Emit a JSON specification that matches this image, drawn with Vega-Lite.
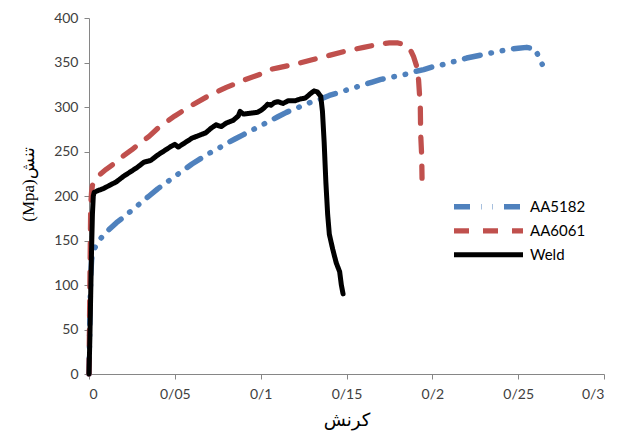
{
  "$schema": "https://vega.github.io/schema/vega-lite/v6.json",
  "autosize": {"type": "none"},
  "width": 515,
  "height": 356,
  "padding": {"left": 89, "top": 18, "right": 34, "bottom": 59},
  "background": "white",
  "config": {
    "view": {"stroke": null},
    "axis": {
      "grid": false,
      "domainColor": "#868686",
      "tickColor": "#868686",
      "tickSize": 5,
      "labelFont": "Lato",
      "labelFontSize": 14,
      "labelColor": "#404040",
      "titleFontWeight": "normal",
      "titleColor": "#000000"
    }
  },
  "data": {
    "values": [
      {"s": "AA5182", "x": 0, "y": 0},
      {"s": "AA5182", "x": 0.0005, "y": 60},
      {"s": "AA5182", "x": 0.001, "y": 110},
      {"s": "AA5182", "x": 0.0015, "y": 128},
      {"s": "AA5182", "x": 0.002, "y": 135},
      {"s": "AA5182", "x": 0.003, "y": 140},
      {"s": "AA5182", "x": 0.005, "y": 148},
      {"s": "AA5182", "x": 0.008, "y": 155},
      {"s": "AA5182", "x": 0.012, "y": 163},
      {"s": "AA5182", "x": 0.016, "y": 170},
      {"s": "AA5182", "x": 0.02, "y": 176},
      {"s": "AA5182", "x": 0.025, "y": 184},
      {"s": "AA5182", "x": 0.03, "y": 192},
      {"s": "AA5182", "x": 0.035, "y": 200},
      {"s": "AA5182", "x": 0.04, "y": 208},
      {"s": "AA5182", "x": 0.045, "y": 215},
      {"s": "AA5182", "x": 0.05, "y": 222},
      {"s": "AA5182", "x": 0.055, "y": 229},
      {"s": "AA5182", "x": 0.06, "y": 236},
      {"s": "AA5182", "x": 0.065, "y": 242},
      {"s": "AA5182", "x": 0.07, "y": 248},
      {"s": "AA5182", "x": 0.075, "y": 253},
      {"s": "AA5182", "x": 0.08, "y": 259},
      {"s": "AA5182", "x": 0.085, "y": 264},
      {"s": "AA5182", "x": 0.09, "y": 269},
      {"s": "AA5182", "x": 0.095, "y": 274},
      {"s": "AA5182", "x": 0.1, "y": 279},
      {"s": "AA5182", "x": 0.105, "y": 284},
      {"s": "AA5182", "x": 0.11, "y": 289},
      {"s": "AA5182", "x": 0.115, "y": 294},
      {"s": "AA5182", "x": 0.12, "y": 298},
      {"s": "AA5182", "x": 0.125, "y": 302},
      {"s": "AA5182", "x": 0.13, "y": 306},
      {"s": "AA5182", "x": 0.135, "y": 309},
      {"s": "AA5182", "x": 0.14, "y": 313},
      {"s": "AA5182", "x": 0.145, "y": 316},
      {"s": "AA5182", "x": 0.15, "y": 319},
      {"s": "AA5182", "x": 0.155, "y": 322},
      {"s": "AA5182", "x": 0.16, "y": 325},
      {"s": "AA5182", "x": 0.165, "y": 328},
      {"s": "AA5182", "x": 0.17, "y": 331},
      {"s": "AA5182", "x": 0.175, "y": 333},
      {"s": "AA5182", "x": 0.18, "y": 335},
      {"s": "AA5182", "x": 0.185, "y": 337},
      {"s": "AA5182", "x": 0.19, "y": 340},
      {"s": "AA5182", "x": 0.195, "y": 342},
      {"s": "AA5182", "x": 0.2, "y": 345},
      {"s": "AA5182", "x": 0.205, "y": 347},
      {"s": "AA5182", "x": 0.21, "y": 350},
      {"s": "AA5182", "x": 0.215, "y": 352},
      {"s": "AA5182", "x": 0.22, "y": 355},
      {"s": "AA5182", "x": 0.225, "y": 357},
      {"s": "AA5182", "x": 0.23, "y": 359},
      {"s": "AA5182", "x": 0.235, "y": 361},
      {"s": "AA5182", "x": 0.24, "y": 363},
      {"s": "AA5182", "x": 0.245, "y": 365},
      {"s": "AA5182", "x": 0.25, "y": 366},
      {"s": "AA5182", "x": 0.255, "y": 367},
      {"s": "AA5182", "x": 0.26, "y": 365},
      {"s": "AA5182", "x": 0.262, "y": 356},
      {"s": "AA5182", "x": 0.264, "y": 348},
      {"s": "AA6061", "x": 0, "y": 0},
      {"s": "AA6061", "x": 0.0005, "y": 100},
      {"s": "AA6061", "x": 0.001, "y": 190},
      {"s": "AA6061", "x": 0.0015, "y": 205},
      {"s": "AA6061", "x": 0.002, "y": 212},
      {"s": "AA6061", "x": 0.003, "y": 217},
      {"s": "AA6061", "x": 0.005, "y": 222},
      {"s": "AA6061", "x": 0.01, "y": 230},
      {"s": "AA6061", "x": 0.015, "y": 237},
      {"s": "AA6061", "x": 0.02, "y": 245},
      {"s": "AA6061", "x": 0.025, "y": 252},
      {"s": "AA6061", "x": 0.03, "y": 260},
      {"s": "AA6061", "x": 0.035, "y": 267},
      {"s": "AA6061", "x": 0.04, "y": 276},
      {"s": "AA6061", "x": 0.045, "y": 283},
      {"s": "AA6061", "x": 0.05, "y": 290},
      {"s": "AA6061", "x": 0.06, "y": 302},
      {"s": "AA6061", "x": 0.07, "y": 313},
      {"s": "AA6061", "x": 0.08, "y": 322},
      {"s": "AA6061", "x": 0.09, "y": 330},
      {"s": "AA6061", "x": 0.1, "y": 337},
      {"s": "AA6061", "x": 0.105, "y": 342},
      {"s": "AA6061", "x": 0.11, "y": 344},
      {"s": "AA6061", "x": 0.12, "y": 348},
      {"s": "AA6061", "x": 0.13, "y": 353},
      {"s": "AA6061", "x": 0.14, "y": 358},
      {"s": "AA6061", "x": 0.15, "y": 363},
      {"s": "AA6061", "x": 0.16, "y": 367},
      {"s": "AA6061", "x": 0.17, "y": 371},
      {"s": "AA6061", "x": 0.175, "y": 372},
      {"s": "AA6061", "x": 0.18, "y": 372},
      {"s": "AA6061", "x": 0.184, "y": 370},
      {"s": "AA6061", "x": 0.187, "y": 365},
      {"s": "AA6061", "x": 0.189, "y": 357},
      {"s": "AA6061", "x": 0.191, "y": 345},
      {"s": "AA6061", "x": 0.192, "y": 330},
      {"s": "AA6061", "x": 0.193, "y": 300},
      {"s": "AA6061", "x": 0.1932, "y": 270},
      {"s": "AA6061", "x": 0.1938, "y": 245},
      {"s": "AA6061", "x": 0.194, "y": 220},
      {"s": "Weld", "x": 0, "y": 0},
      {"s": "Weld", "x": 0.0005, "y": 40},
      {"s": "Weld", "x": 0.001, "y": 90},
      {"s": "Weld", "x": 0.0015, "y": 140},
      {"s": "Weld", "x": 0.002, "y": 180},
      {"s": "Weld", "x": 0.0025, "y": 200},
      {"s": "Weld", "x": 0.003, "y": 204},
      {"s": "Weld", "x": 0.005, "y": 206},
      {"s": "Weld", "x": 0.008, "y": 208},
      {"s": "Weld", "x": 0.012, "y": 212},
      {"s": "Weld", "x": 0.016, "y": 216},
      {"s": "Weld", "x": 0.02, "y": 222},
      {"s": "Weld", "x": 0.024, "y": 227},
      {"s": "Weld", "x": 0.028, "y": 232},
      {"s": "Weld", "x": 0.032, "y": 238},
      {"s": "Weld", "x": 0.036, "y": 240},
      {"s": "Weld", "x": 0.04, "y": 246},
      {"s": "Weld", "x": 0.044, "y": 251},
      {"s": "Weld", "x": 0.048, "y": 256},
      {"s": "Weld", "x": 0.05, "y": 258},
      {"s": "Weld", "x": 0.052, "y": 255},
      {"s": "Weld", "x": 0.056, "y": 260},
      {"s": "Weld", "x": 0.06, "y": 265},
      {"s": "Weld", "x": 0.064, "y": 268},
      {"s": "Weld", "x": 0.068, "y": 271},
      {"s": "Weld", "x": 0.071, "y": 276},
      {"s": "Weld", "x": 0.074, "y": 280},
      {"s": "Weld", "x": 0.077, "y": 278},
      {"s": "Weld", "x": 0.08, "y": 282},
      {"s": "Weld", "x": 0.084, "y": 285},
      {"s": "Weld", "x": 0.087, "y": 290},
      {"s": "Weld", "x": 0.088, "y": 295},
      {"s": "Weld", "x": 0.09, "y": 292},
      {"s": "Weld", "x": 0.094, "y": 293},
      {"s": "Weld", "x": 0.098, "y": 294},
      {"s": "Weld", "x": 0.1, "y": 296},
      {"s": "Weld", "x": 0.102, "y": 299},
      {"s": "Weld", "x": 0.104, "y": 303},
      {"s": "Weld", "x": 0.106, "y": 302},
      {"s": "Weld", "x": 0.108, "y": 305},
      {"s": "Weld", "x": 0.11, "y": 306},
      {"s": "Weld", "x": 0.113, "y": 304},
      {"s": "Weld", "x": 0.116, "y": 307},
      {"s": "Weld", "x": 0.12, "y": 307},
      {"s": "Weld", "x": 0.123, "y": 309},
      {"s": "Weld", "x": 0.126, "y": 310},
      {"s": "Weld", "x": 0.129, "y": 315},
      {"s": "Weld", "x": 0.131, "y": 318},
      {"s": "Weld", "x": 0.133, "y": 317},
      {"s": "Weld", "x": 0.135, "y": 312},
      {"s": "Weld", "x": 0.136, "y": 295},
      {"s": "Weld", "x": 0.137, "y": 260},
      {"s": "Weld", "x": 0.138, "y": 215},
      {"s": "Weld", "x": 0.139, "y": 180},
      {"s": "Weld", "x": 0.14, "y": 157},
      {"s": "Weld", "x": 0.142, "y": 140},
      {"s": "Weld", "x": 0.144, "y": 125},
      {"s": "Weld", "x": 0.146, "y": 115},
      {"s": "Weld", "x": 0.147, "y": 100},
      {"s": "Weld", "x": 0.148, "y": 90}
    ]
  },
  "mark": {"type": "line", "strokeCap": "round", "strokeJoin": "round"},
  "encoding": {
    "x": {
      "field": "x",
      "type": "quantitative",
      "scale": {"domain": [0, 0.3], "nice": false},
      "axis": {
        "values": [0, 0.05, 0.1, 0.15, 0.2, 0.25, 0.3],
        "labelExpr": "replace(format(datum.value, '.2~f'), '.', '/')",
        "labelPadding": 8,
        "title": "کرنش",
        "titleFont": "DejaVu Sans",
        "titleFontSize": 18,
        "titlePadding": 10
      }
    },
    "y": {
      "field": "y",
      "type": "quantitative",
      "scale": {"domain": [0, 400], "nice": false},
      "axis": {
        "values": [0, 50, 100, 150, 200, 250, 300, 350, 400],
        "labelPadding": 6,
        "title": "(Mpa)تنش",
        "titleFont": "Liberation Serif",
        "titleFontSize": 17,
        "titlePadding": 16,
        "titleY": 166
      }
    },
    "color": {
      "field": "s",
      "type": "nominal",
      "scale": {"domain": ["AA5182", "AA6061", "Weld"], "range": ["#4F81BD", "#C0504D", "#000000"]},
      "legend": {
        "title": null,
        "orient": "none",
        "legendX": 362,
        "legendY": 177,
        "symbolType": "stroke",
        "symbolSize": 4761,
        "symbolStrokeWidth": 5,
        "labelFont": "Lato",
        "labelFontSize": 15,
        "labelColor": "#000000",
        "clipHeight": 23.5,
        "rowPadding": 0
      }
    },
    "strokeDash": {
      "field": "s",
      "type": "nominal",
      "scale": {"domain": ["AA5182", "AA6061", "Weld"], "range": [[16, 11, 0.5, 11, 0.5, 11], [15, 14], [1, 0]]},
      "legend": {
        "title": null,
        "orient": "none",
        "legendX": 362,
        "legendY": 177,
        "symbolType": "stroke",
        "symbolSize": 4761,
        "symbolStrokeWidth": 5,
        "labelFont": "Lato",
        "labelFontSize": 15,
        "labelColor": "#000000",
        "clipHeight": 23.5,
        "rowPadding": 0
      }
    },
    "strokeWidth": {
      "field": "s",
      "type": "nominal",
      "scale": {"domain": ["AA5182", "AA6061", "Weld"], "range": [5.5, 5, 5]},
      "legend": null
    },
    "order": {"value": null}
  }
}
